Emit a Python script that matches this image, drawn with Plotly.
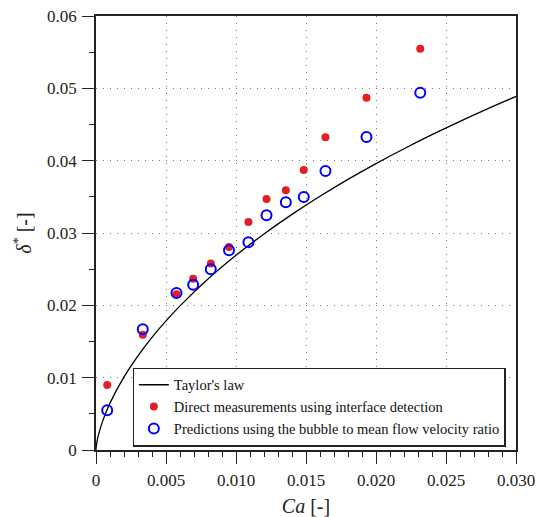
import plotly.graph_objects as go

# Taylor's law curve (values read/sampled along the curve)
taylor_ca = [0.0, 0.00001, 0.0001, 0.0002, 0.0005, 0.001, 0.002, 0.003, 0.004, 0.005, 0.006,
             0.008, 0.010, 0.012, 0.014, 0.016, 0.018, 0.020, 0.022, 0.024, 0.026, 0.028, 0.030]
taylor_delta = [0.0, 0.000311, 0.001433, 0.002265, 0.004134, 0.006483, 0.010099, 0.013029,
                0.015569, 0.017843, 0.019920, 0.023633, 0.026914, 0.029872, 0.032579, 0.035080,
                0.037410, 0.039593, 0.041649, 0.043595, 0.045442, 0.047201, 0.048879]

# Measurements
ca_points = [0.0008, 0.00334, 0.00575, 0.00694, 0.0082, 0.0095, 0.01089, 0.01218,
             0.01356, 0.01484, 0.01639, 0.01932, 0.02316]
delta_direct = [0.0090, 0.01594, 0.02152, 0.02369, 0.0258, 0.02807, 0.03152, 0.0347,
                0.03591, 0.03871, 0.04323, 0.04871, 0.05548]
delta_pred = [0.00549, 0.01668, 0.02171, 0.02286, 0.02498, 0.02761, 0.02871, 0.03245,
              0.03425, 0.03498, 0.03857, 0.04327, 0.0494]

# tick positions
x_minor_ticks = [i / 1000 for i in range(0, 31)]
y_minor_ticks = [i / 200 for i in range(0, 13)]

FONT = "'Liberation Serif', 'Times New Roman', Times, 'DejaVu Serif', serif"
INK = "#222"

fig = go.Figure()
fig.add_trace(go.Scatter(x=taylor_ca, y=taylor_delta, mode="lines",
                         line=dict(color="black", width=1.3, shape="spline"),
                         name="Taylor's law"))
fig.add_trace(go.Scatter(x=ca_points, y=delta_direct, mode="markers",
                         marker=dict(color="#e41e26", size=8, line=dict(width=0)),
                         name="Direct measurements using interface detection"))
fig.add_trace(go.Scatter(x=ca_points, y=delta_pred, mode="markers",
                         marker=dict(color="#0000ff", size=10, symbol="circle-open",
                                     line=dict(width=2)),
                         name="Predictions using the bubble to mean flow velocity ratio"))
# invisible carrier trace for the minor-tick overlay axes
fig.add_trace(go.Scatter(x=taylor_ca, y=taylor_delta, xaxis="x2", yaxis="y2",
                         mode="lines", line=dict(width=0, color="rgba(0,0,0,0)"),
                         showlegend=False, hoverinfo="skip"))

axis_common = dict(
    showline=True, linecolor=INK, linewidth=1.5, mirror=True,
    ticks="outside", ticklen=12, tickwidth=1.3, tickcolor=INK,
    showgrid=True, gridcolor="#777", gridwidth=1, griddash="1px,6px",
    zeroline=False, automargin=False,
    tickfont=dict(family=FONT, size=17, color=INK),
)

fig.update_layout(
    xaxis=dict(
        range=[0, 0.030], tickmode="linear", tick0=0, dtick=0.005,
        tickformat=".3f", labelalias={"0.000": "0"},
        title=dict(text="<i>Ca</i> [-]", font=dict(family=FONT, size=20, color=INK), standoff=22),
        ticklabelstandoff=2,
        **axis_common,
    ),
    yaxis=dict(
        range=[0, 0.06], tickmode="linear", tick0=0, dtick=0.01,
        tickformat=".2f", labelalias={"0.00": "0"},
        title=dict(text="<i>δ</i><sup>*</sup> [-]", font=dict(family=FONT, size=20, color=INK), standoff=10),
        ticklabelstandoff=2,
        **axis_common,
    ),
    xaxis2=dict(
        range=[0, 0.030], overlaying="x", anchor="y", side="bottom",
        tickmode="array", tickvals=x_minor_ticks, ticks="outside", ticklen=6,
        tickwidth=1.3, tickcolor=INK, showticklabels=False, showgrid=False,
        showline=False, zeroline=False, automargin=False,
    ),
    yaxis2=dict(
        range=[0, 0.06], overlaying="y", anchor="x", side="left",
        tickmode="array", tickvals=y_minor_ticks, ticks="outside", ticklen=6,
        tickwidth=1.3, tickcolor=INK, showticklabels=False, showgrid=False,
        showline=False, zeroline=False, automargin=False,
    ),
    width=539, height=517,
    margin=dict(l=96, r=23, t=16, b=67),
    plot_bgcolor="white", paper_bgcolor="white",
    font=dict(family=FONT, size=14, color=INK),
    legend=dict(x=0.087, y=0.008, xanchor="left", yanchor="bottom",
                bgcolor="white", bordercolor=INK, borderwidth=1.3,
                font=dict(family=FONT, size=14.5, color="#111"),
                tracegroupgap=0, itemwidth=30),
    showlegend=True,
)

fig.write_html("out.html")
